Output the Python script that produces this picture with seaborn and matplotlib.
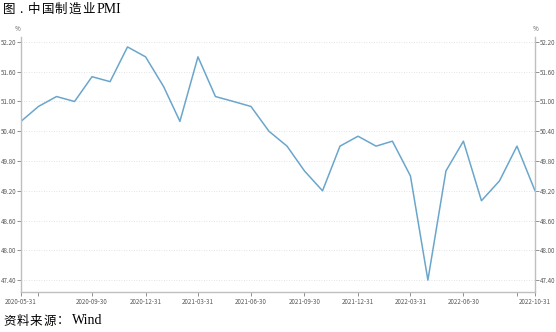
import matplotlib
matplotlib.use("Agg")
import matplotlib.pyplot as plt
import matplotlib.dates as mdates
import seaborn as sns
import pandas as pd
import numpy as np

dates = pd.date_range("2020-05-31", "2022-10-31", freq="ME")
pmi = [50.6, 50.9, 51.1, 51.0, 51.5, 51.4, 52.1, 51.9, 51.3, 50.6,
       51.9, 51.1, 51.0, 50.9, 50.4, 50.1, 49.6, 49.2, 50.1, 50.3,
       50.1, 50.2, 49.5, 47.4, 49.6, 50.2, 49.0, 49.4, 50.1, 49.2]
yticks = [47.4, 48.0, 48.6, 49.2, 49.8, 50.4, 51.0, 51.6, 52.2]
xlabels = ["2020-05-31", "2020-09-30", "2020-12-31", "2021-03-31", "2021-06-30",
           "2021-09-30", "2021-12-31", "2022-03-31", "2022-06-30", "2022-10-31"]
title_parts = ["图", ".", "中", "国", "制", "造", "业", "PMI"]
source_parts = ["资", "料", "来", "源", "：", "Wind"]

df = pd.DataFrame({"date": dates, "pmi": pmi})

sns.set_theme(style="white")
plt.rcParams['font.family'] = ['Noto Sans CJK SC', 'DejaVu Sans']

fig = plt.figure(figsize=(5.56, 3.32), dpi=100)
ax = fig.add_axes([21/556, 1-292/332, (535-21)/556, (292-37)/332])

sns.lineplot(data=df, x="date", y="pmi", ax=ax, color="#6aa6cc", linewidth=1.1)

ax.set_xlim(dates[0], dates[-1])
ax.set_ylim(47.16, 52.3)
ax.set_yticks(yticks)
ax.set_yticklabels([f"{v:.2f}" for v in yticks])
ax.grid(axis="y", color="#d9d9d9", linestyle=(0, (1, 2)), linewidth=0.6)
ax.set_xlabel("")
ax.set_ylabel("")

xt = pd.to_datetime(xlabels)
ax.set_xticks(xt)
ax.set_xticklabels(xlabels)
qticks = pd.date_range("2020-06-30", "2022-09-30", freq="QE")
ax.set_xticks(qticks, minor=True)

ax.spines["top"].set_visible(False)
for side in ["left", "right", "bottom"]:
    ax.spines[side].set_color("#bfbfbf")
    ax.spines[side].set_linewidth(1.0)

ax.tick_params(axis="y", which="both", left=True, right=True, labelleft=True,
               labelright=True, length=3, width=0.6, color="#7f7f7f",
               labelsize=4.5, labelcolor="#595959", pad=0.5)
ax.tick_params(axis="x", which="major", bottom=True, length=3, width=0.6,
               color="#7f7f7f", labelsize=4.5, labelcolor="#595959", pad=1.5)
ax.tick_params(axis="x", which="minor", bottom=True, length=3, width=0.6,
               color="#7f7f7f")

fig.text(18/556, 1-29/332, "%", fontsize=4.5, color="#595959", ha="center", va="center")
fig.text(536/556, 1-29/332, "%", fontsize=4.5, color="#595959", ha="center", va="center")

title_x = [3, 19, 28, 41.5, 55, 68.5, 82, 97]
for s, x in zip(title_parts, title_x):
    fam = ['Liberation Serif'] if s == "PMI" else ['Noto Sans CJK SC', 'DejaVu Sans']
    fs = 10 if s == "PMI" else 9
    fig.text(x/556, 1-9.5/332, s, fontsize=fs, color="#000000", ha="left",
             va="center", family=fam)

source_x = [3, 16.5, 30, 43.5, 57, 72]
for s, x in zip(source_parts, source_x):
    fam = ['Liberation Serif'] if s == "Wind" else ['Noto Sans CJK SC', 'DejaVu Sans']
    fs = 10 if s == "Wind" else 9
    fig.text(x/556, 1-321/332, s, fontsize=fs, color="#000000", ha="left",
             va="center", family=fam)

fig.savefig("out.png", dpi=100, facecolor="white")
